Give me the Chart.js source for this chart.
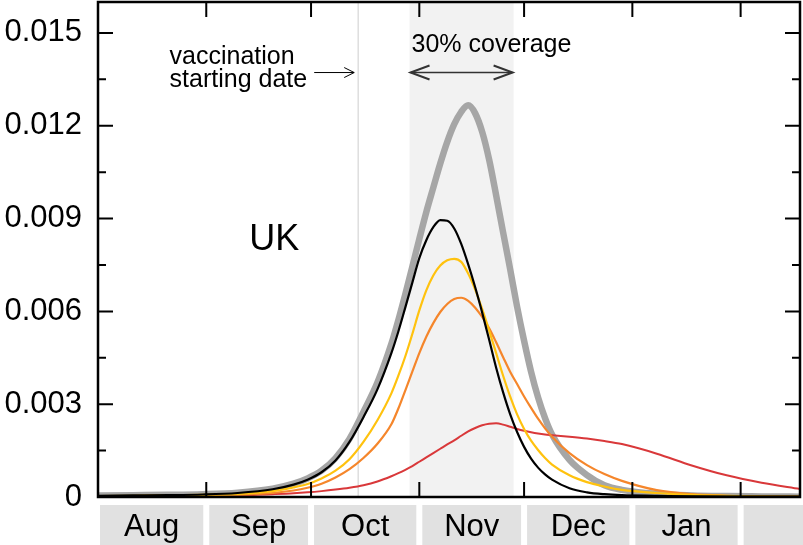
<!DOCTYPE html>
<html>
<head>
<meta charset="utf-8">
<script src="https://cdn.jsdelivr.net/npm/chart.js@4.4.1/dist/chart.umd.min.js"></script>
<style>
  html, body { margin: 0; padding: 0; background: #fff; }
  #wrap { width: 803px; height: 545px; }
</style>
</head>
<body>
<div id="wrap"><canvas id="c" width="803" height="545"></canvas></div>
<script>
// Daily incidence, days counted from 1 August
const days = [0, 10, 20, 30, 40, 50, 56, 60, 64, 68, 72, 76, 80,
  84, 86, 88, 90, 92, 94, 96, 98, 100, 102, 104, 106, 108, 110, 112, 114, 116, 118, 120, 122, 124, 126, 128, 130,
  135, 140, 145, 150, 160, 170, 180, 190, 201];

// No vaccination
const noVaccine = [0.00005, 0.00006, 0.00007, 0.00009, 0.00014, 0.00027, 0.00043, 0.0006, 0.00085, 0.00126, 0.00188, 0.00275, 0.0037,
  0.00495, 0.00572, 0.00656, 0.00744, 0.00834, 0.00921, 0.01, 0.01078, 0.01148, 0.01205, 0.01245, 0.01266, 0.0124, 0.0118,
  0.0109, 0.00975, 0.00855, 0.00737, 0.00615, 0.00505, 0.00405, 0.00322, 0.00255, 0.00202,
  0.0012, 0.00071, 0.00038, 0.00023, 0.0001, 0.00005, 0.00003, 0.00002, 0.00001];

// Vaccination scenarios
const scenarioBlack = [0.00004, 0.00005, 0.00006, 0.00008, 0.00013, 0.00025, 0.0004, 0.00056, 0.0008, 0.00118, 0.00178, 0.00258, 0.00348,
  0.00465, 0.00535, 0.00613, 0.00693, 0.00772, 0.0083, 0.00872, 0.00895, 0.00893, 0.00868, 0.00818, 0.00752, 0.00678, 0.00596,
  0.00508, 0.00418, 0.00338, 0.00268, 0.0021, 0.00162, 0.00124, 0.00095, 0.00073, 0.00056,
  0.00028, 0.00015, 0.00009, 0.00006, 0.00004, 0.00002, 0.00001, 0.00001, 0.00001];

const scenarioYellow = [0.00003, 0.00004, 0.00005, 0.00007, 0.0001, 0.00019, 0.00031, 0.00042, 0.0006, 0.00085, 0.00122, 0.00178, 0.00248,
  0.00335, 0.00392, 0.00455, 0.00527, 0.00603, 0.00668, 0.00716, 0.00748, 0.00765, 0.0077, 0.0076, 0.00722, 0.0067, 0.00607,
  0.00538, 0.00465, 0.00392, 0.00325, 0.00267, 0.0022, 0.00182, 0.00152, 0.00126, 0.00105,
  0.0007, 0.00048, 0.00034, 0.00023, 0.00013, 0.00007, 0.00004, 0.00002, 0.00001];

const scenarioOrange = [0.00002, 0.00003, 0.00004, 0.00005, 0.00007, 0.00013, 0.00021, 0.0003, 0.00043, 0.00063, 0.0009, 0.00126, 0.00172,
  0.00235, 0.00286, 0.00345, 0.00405, 0.00465, 0.00518, 0.00562, 0.00598, 0.00624, 0.0064, 0.00644, 0.00634, 0.00612, 0.00582,
  0.00545, 0.005, 0.00452, 0.00405, 0.00365, 0.00325, 0.00288, 0.00253, 0.00222, 0.00195,
  0.00142, 0.00103, 0.00074, 0.00052, 0.00022, 0.00009, 0.00004, 0.00002, 0.00001];

const scenarioRed = [0.00001, 0.00002, 0.00003, 0.00004, 0.00005, 0.00009, 0.00012, 0.00015, 0.00019, 0.00024, 0.0003, 0.00038, 0.0005,
  0.00067, 0.00077, 0.00088, 0.001, 0.00114, 0.00128, 0.00142, 0.00156, 0.0017, 0.00183, 0.00198, 0.00212, 0.00223, 0.00232,
  0.00237, 0.00238, 0.00234, 0.00227, 0.0022, 0.00214, 0.00209, 0.00205, 0.00202, 0.002,
  0.00195, 0.00189, 0.00181, 0.00171, 0.0014, 0.00102, 0.0007, 0.00046, 0.00026];

// Month labels and their first day
const months = ["Aug", "Sep", "Oct", "Nov", "Dec", "Jan", ""];
const monthStarts = [0, 31, 61, 92, 122, 153, 184];

// Y axis
const yMajorTicks = [0, 0.003, 0.006, 0.009, 0.012, 0.015];
const yMinorTicks = [0.0015, 0.0045, 0.0075, 0.0105, 0.0135];

// Vaccination timing (days from 1 August)
const vaccinationStart = 74.5;
const coverageWindow = [89.2, 119];

const FONT = '"Liberation Sans", Arial, Helvetica, sans-serif';

function series(values) {
  return days.map((d, i) => ({ x: d, y: values[i] }));
}

function chevron(ctx, tipX, tipY, dir, len, half) {
  ctx.beginPath();
  ctx.moveTo(tipX - dir * len, tipY - half);
  ctx.lineTo(tipX, tipY);
  ctx.lineTo(tipX - dir * len, tipY + half);
  ctx.stroke();
}

const decor = {
  id: 'decor',
  beforeDatasetsDraw(chart) {
    const { ctx, chartArea: a, scales: { x } } = chart;
    ctx.save();
    const x0 = x.getPixelForValue(coverageWindow[0]);
    const x1 = x.getPixelForValue(coverageWindow[1]);
    ctx.fillStyle = '#f2f2f2';
    ctx.fillRect(x0, a.top, x1 - x0, a.bottom - a.top);
    const xv = x.getPixelForValue(vaccinationStart);
    ctx.strokeStyle = '#dedede';
    ctx.lineWidth = 1.5;
    ctx.beginPath();
    ctx.moveTo(xv, a.top);
    ctx.lineTo(xv, a.bottom);
    ctx.stroke();
    ctx.restore();
  },
  afterDatasetsDraw(chart) {
    const { ctx, scales: { x, y } } = chart;
    ctx.save();
    ctx.fillStyle = '#000';

    // Country label
    ctx.font = '36px ' + FONT;
    ctx.textAlign = 'center';
    ctx.textBaseline = 'middle';
    ctx.fillText('UK', x.getPixelForValue(50.5), y.getPixelForValue(0.0083));

    // Vaccination start annotation
    ctx.font = '25px ' + FONT;
    ctx.textAlign = 'left';
    ctx.textBaseline = 'alphabetic';
    const tx = x.getPixelForValue(20.5);
    const ty = y.getPixelForValue(0.0140);
    ctx.fillText('vaccination', tx, ty);
    ctx.fillText('starting date', tx, ty + 23);

    const xv = x.getPixelForValue(vaccinationStart);
    const ay = y.getPixelForValue(0.01372);
    ctx.strokeStyle = '#000';
    ctx.lineWidth = 1;
    ctx.beginPath();
    ctx.moveTo(xv - 44, ay);
    ctx.lineTo(xv - 4, ay);
    ctx.stroke();
    chevron(ctx, xv - 4, ay, 1, 10, 5);

    // Coverage window annotation
    const x0 = x.getPixelForValue(coverageWindow[0]);
    const x1 = x.getPixelForValue(coverageWindow[1]);
    ctx.fillText('30% coverage', x0 + 2, y.getPixelForValue(0.0144));
    ctx.strokeStyle = '#333';
    ctx.lineWidth = 1.5;
    ctx.beginPath();
    ctx.moveTo(x0 + 1, ay);
    ctx.lineTo(x1 - 1, ay);
    ctx.stroke();
    ctx.lineWidth = 2;
    chevron(ctx, x0 + 1, ay, -1, 19, 7);
    chevron(ctx, x1 - 1, ay, 1, 19, 7);
    ctx.restore();
  },
  afterDraw(chart) {
    const { ctx, chartArea: a, scales: { x, y } } = chart;
    ctx.save();

    // Month boxes under the axis
    ctx.font = '31px ' + FONT;
    ctx.textAlign = 'center';
    ctx.textBaseline = 'alphabetic';
    for (let i = 0; i < months.length; i++) {
      const left = i === 0 ? a.left + 2 : x.getPixelForValue(monthStarts[i]) + 3;
      const right = i + 1 < monthStarts.length ? x.getPixelForValue(monthStarts[i + 1]) - 3 : chart.width;
      ctx.fillStyle = '#e1e1e1';
      ctx.fillRect(left, a.bottom + 8, right - left, chart.height - a.bottom - 8);
      if (months[i]) {
        ctx.fillStyle = '#000';
        ctx.fillText(months[i], (left + right) / 2, a.bottom + 39);
      }
    }

    // Tick marks, pointing inward on all sides
    ctx.strokeStyle = '#000';
    ctx.lineWidth = 2;
    ctx.beginPath();
    for (const v of yMajorTicks.concat(yMinorTicks)) {
      const len = yMajorTicks.includes(v) ? 15 : 8;
      const py = y.getPixelForValue(v);
      ctx.moveTo(a.left, py); ctx.lineTo(a.left + len, py);
      ctx.moveTo(a.right, py); ctx.lineTo(a.right - len, py);
    }
    for (let i = 1; i < monthStarts.length; i++) {
      const px = x.getPixelForValue(monthStarts[i]);
      ctx.moveTo(px, a.bottom); ctx.lineTo(px, a.bottom - 15);
      ctx.moveTo(px, a.top); ctx.lineTo(px, a.top + 15);
    }
    ctx.stroke();

    // Frame
    ctx.lineWidth = 2.5;
    ctx.strokeRect(a.left, a.top, a.right - a.left, a.bottom - a.top);
    ctx.restore();
  }
};

const lineStyle = { pointRadius: 0, fill: false, cubicInterpolationMode: 'monotone', borderCapStyle: 'round', borderJoinStyle: 'round' };

new Chart(document.getElementById('c'), {
  type: 'line',
  data: {
    datasets: [
      { label: 'Scenario 1', data: series(scenarioBlack), borderColor: '#000000', borderWidth: 2.2, ...lineStyle },
      { label: 'Scenario 2', data: series(scenarioYellow), borderColor: '#ffc20e', borderWidth: 2.2, ...lineStyle },
      { label: 'Scenario 3', data: series(scenarioOrange), borderColor: '#f5862b', borderWidth: 2.2, ...lineStyle },
      { label: 'Scenario 4', data: series(scenarioRed), borderColor: '#d9383a', borderWidth: 2, ...lineStyle },
      { label: 'No vaccination', data: series(noVaccine), borderColor: '#a6a6a6', borderWidth: 6.5, ...lineStyle }
    ]
  },
  options: {
    responsive: false,
    animation: false,
    devicePixelRatio: 1,
    layout: { padding: { left: 0, right: 3, top: 2, bottom: 48 } },
    plugins: { legend: { display: false }, tooltip: { enabled: false } },
    scales: {
      x: { type: 'linear', min: 0, max: 201, display: false },
      y: {
        min: 0, max: 0.016,
        grid: { display: false, drawTicks: false },
        border: { display: false },
        afterBuildTicks(s) { s.ticks = yMajorTicks.map(v => ({ value: v })); },
        afterFit(s) { s.width = 98; s.paddingTop = 0; s.paddingBottom = 0; },
        ticks: {
          autoSkip: false,
          padding: 16,
          color: '#000',
          font: { family: FONT, size: 31 },
          callback(v) { return v === 0 ? '0' : v.toFixed(3); }
        }
      }
    }
  },
  plugins: [decor]
});
</script>
</body>
</html>
